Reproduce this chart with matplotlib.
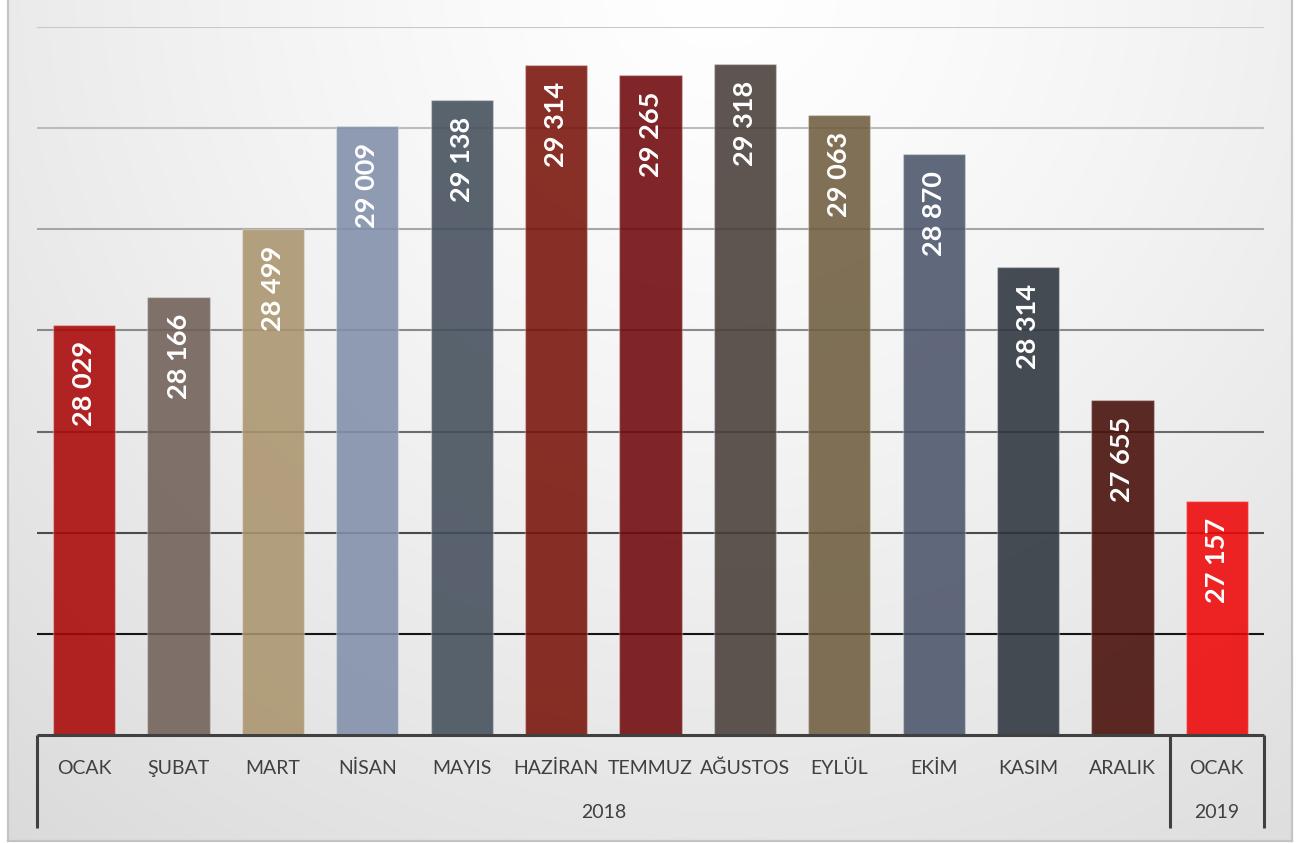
import numpy as np
import matplotlib
matplotlib.use("Agg")
import matplotlib.pyplot as plt
import matplotlib.colors as mcolors
import matplotlib.transforms as mtransforms

plt.rcParams['font.family'] = ['Lato', 'DejaVu Sans']

# Data
months = ["OCAK", "ŞUBAT", "MART", "NİSAN", "MAYIS", "HAZİRAN", "TEMMUZ",
          "AĞUSTOS", "EYLÜL", "EKİM", "KASIM", "ARALIK", "OCAK"]
values = [28029, 28166, 28499, 29009, 29138, 29314, 29265,
          29318, 29063, 28870, 28314, 27655, 27157]
years = ["2018", "2019"]
year_counts = [12, 1]
bar_colors = ["#B22222", "#7F716A", "#B29E7C", "#8E9AB2", "#57616C", "#862D24",
              "#7E2326", "#5C534D", "#7D6E54", "#5E6679", "#434A51", "#5B2822",
              "#EE2222"]

W, H = 1296, 843
fig = plt.figure(figsize=(W / 100, H / 100), dpi=100)

# background: soft radial gray gradient inside a thin border
bg = fig.add_axes([0, 0, 1, 1], zorder=-5)
yy, xx = np.mgrid[0:H, 0:W]
d = np.hypot(xx - 720, yy + 20) / 1100
shade = np.clip(255 - 36 * d ** 1.3, 0, 255) / 255
img = np.dstack([shade, shade, shade])
outside = (xx < 8) | (xx > 1292) | (yy > 841)
img[outside] = 1.0
bg.imshow(img, extent=[0, W, H, 0], aspect='auto', interpolation='bilinear')
bg.plot([7.5, 7.5], [0, 841], color='#c4c4c4', lw=1.6)
bg.plot([1292, 1292], [0, 841], color='#c4c4c4', lw=1.6)
bg.plot([7.5, 1292], [841, 841], color='#c4c4c4', lw=1.6)
bg.set_xlim(0, W)
bg.set_ylim(H, 0)
bg.axis('off')

ax = fig.add_axes([37 / W, (H - 735) / H, 1227 / W, 708 / H])
ax.patch.set_alpha(0)

# gridlines, darkening toward the bottom
grid_vals = [29500, 29000, 28500, 28000, 27500, 27000, 26500]
grid_cols = ['#c8c8c8', '#bcbcbc', '#a6a6a6', '#8a8a8a', '#6a6a6a', '#4a4a4a', '#151515']
for gv, gc in zip(grid_vals, grid_cols):
    ax.axhline(gv, color=gc, lw=1.5, zorder=1)

# bars slightly transparent, colours compensated for the blend
alpha = 0.88
face = []
for c in bar_colors:
    rgb = np.array(mcolors.to_rgb(c))
    face.append(tuple(np.clip((rgb - (1 - alpha) * 0.92) / alpha, 0, 1)) + (alpha,))

x = np.arange(len(values))
bars = ax.bar(x, values, width=0.66, color=face, edgecolor=(1, 1, 1, 0.3),
              linewidth=1, zorder=2)

for xi, v in zip(x, values):
    lab = f"{v:,}".replace(",", " ")
    ax.annotate(lab, xy=(xi, v), xytext=(0, -12), textcoords='offset points',
                rotation=90, ha='center', va='top', color='white',
                fontsize=19.5, fontweight='bold', zorder=3)

ax.set_xlim(-0.5, len(values) - 0.5)
ax.set_ylim(26000, 29500)
ax.set_xticks([])
ax.set_yticks([])
for s in ax.spines.values():
    s.set_visible(False)

# category axis: month labels, year labels and separators
trans = mtransforms.blended_transform_factory(ax.transData, ax.transAxes)
ax.plot([-0.5, len(values) - 0.5], [0, 0], color='#404040', lw=2.2,
        transform=trans, clip_on=False, zorder=4, solid_capstyle='butt')

for xi, m in zip(x, months):
    ax.annotate(m, xy=(xi, 0), xycoords=trans, xytext=(0, -24),
                textcoords='offset points', ha='center', va='center',
                color='#404040', fontsize=14)

start = -0.5
edges = [start]
for yr, n in zip(years, year_counts):
    mid = start + n / 2
    ax.annotate(yr, xy=(mid, 0), xycoords=trans, xytext=(0, -55.5),
                textcoords='offset points', ha='center', va='center',
                color='#404040', fontsize=14)
    start += n
    edges.append(start)

for e in edges:
    ax.plot([e, e], [0, -93 / 708], color='#404040', lw=2.2, transform=trans,
            clip_on=False, zorder=4, solid_capstyle='butt')

fig.savefig("out.png", dpi=100)
